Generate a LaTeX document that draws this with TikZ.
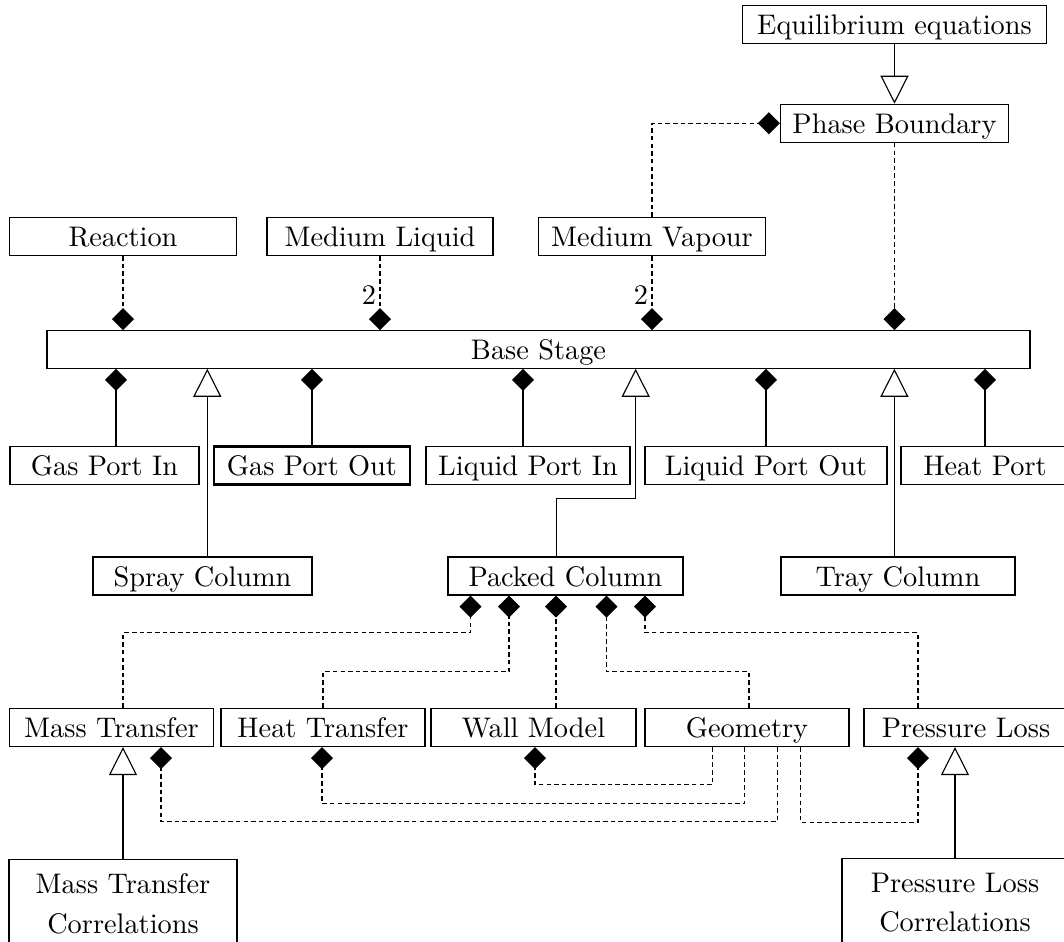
\documentclass[tikz,border=0pt]{standalone}
\usetikzlibrary{arrows.meta,calc}
\tikzset{
  cls/.style={draw, fill=white, minimum width=#1*0.353pt, minimum height=38*0.353pt, inner sep=0pt, font=\normalsize, text height=7.2pt, text depth=0pt},
  mcls/.style={draw, fill=white, minimum width=#1*0.353pt, inner xsep=0pt, inner ysep=5pt, font=\normalsize, align=center, anchor=north},
  dep/.style={dash pattern=on 1.6pt off 1.1pt},
  comp/.style={-{Diamond[length=7.8pt,width=7.8pt]}},
  inh/.style={-{Triangle[open,length=9.9pt,width=9.9pt,fill=white]}},
  mult/.style={inner sep=1.2pt, font=\normalsize},
}
\begin{document}
\begin{tikzpicture}[x=0.353pt, y=-0.353pt]
\useasboundingbox (0,0) rectangle (1064,942);
\clip (0,0) rectangle (1064,942);
% classes
\node[cls=304] (eq) at (894.5,24.5) {Equilibrium equations};
\node[cls=228] (pb) at (894.5,123.3) {Phase Boundary};
\node[cls=227] (re) at (123,236.5) {Reaction};
\node[cls=226] (ml) at (380,236.5) {Medium Liquid};
\node[cls=227] (mv) at (652,236.5) {Medium Vapour};
\node[cls=983, minimum height=37.5*0.353pt] (base) at (538.5,349.5) {Base Stage};
\node[cls=189] (gpi) at (104.5,465.5) {Gas Port In};
\node[cls=196, line width=0.8pt] (gpo) at (312,465.5) {Gas Port Out};
\node[cls=204] (lpi) at (528,465.5) {Liquid Port In};
\node[cls=242] (lpo) at (766,465.5) {Liquid Port Out};
\node[cls=168] (hp) at (985,465.5) {Heat Port};
\node[cls=219] (sc) at (202.5,576) {Spray Column};
\node[cls=235] (pc) at (565.5,576) {Packed Column};
\node[cls=234] (tc) at (898,576) {Tray Column};
\node[cls=204] (mt) at (111.5,727.5) {Mass Transfer};
\node[cls=204] (ht) at (323,727.5) {Heat Transfer};
\node[cls=205] (wm) at (533.5,727.5) {Wall Model};
\node[cls=204] (geo) at (747,727.5) {Geometry};
\node[cls=204] (pl) at (966,727.5) {Pressure Loss};
\node[mcls=228] (mtc) at (123,859) {Mass Transfer\\[2pt]Correlations};
\node[mcls=226] (plc) at (955,858) {Pressure Loss\\[2pt]Correlations};
% top
\draw[inh] (eq.south) -- (eq.south |- pb.north);
\draw[dep,comp] (mv.north) |- (pb.west);
\draw[dep,comp] (pb.south) -- (pb.south |- base.north);
\draw[dep,comp] (re.south) -- (re.south |- base.north);
\draw[dep,comp] (ml.south) -- node[pos=0.53, left, mult] (l1) {2} (ml.south |- base.north);
\draw[dep,comp] (mv.south) -- node[pos=0.53, left, mult] (l2) {2} (mv.south |- base.north);
% ports
\draw[comp] ($(gpi.north)+(11.5,0)$) coordinate (t1) -- (t1 |- base.south);
\draw[comp] (gpo.north) -- (gpo.north |- base.south);
\draw[comp] ($(lpi.north)+(-5,0)$) coordinate (t2) -- (t2 |- base.south);
\draw[comp] (lpo.north) -- (lpo.north |- base.south);
\draw[comp] (hp.north) -- (hp.north |- base.south);
% inheritance of columns
\draw[inh] ($(sc.north)+(4.8,0)$) coordinate (t3) -- (t3 |- base.south);
\draw[inh] ($(pc.north)+(-8.8,0)$) -- ++(0,-57.7) -| ($(base.south)+(97.2,0)$);
\draw[inh] ($(tc.north)+(-3.6,0)$) coordinate (t4) -- (t4 |- base.south);
% packed column parts
\draw[dep,comp] ($(mt.north)+(11.5,0)$) -- ++(0,-75) -| ($(pc.south)+(-95,0)$);
\draw[dep,comp] (ht.north) -- ++(0,-36) -| ($(pc.south)+(-56.5,0)$);
\draw[dep,comp] ($(wm.north)+(22.5,0)$) -- ($(pc.south)+(-9.5,0)$);
\draw[dep,comp] ($(geo.north)+(2,0)$) -- ++(0,-36) -| ($(pc.south)+(41,0)$);
\draw[dep,comp] ($(pl.north)+(-48,0)$) -- ++(0,-75) -| ($(pc.south)+(79.5,0)$);
% geometry usage
\draw[dep,comp] ($(geo.south)+(-34.3,0)$) -- ++(0,37.3) -| ($(wm.south)+(1.5,0)$);
\draw[dep,comp] ($(geo.south)+(-2.7,0)$) -- ++(0,56.7) -| ($(ht.south)+(-1,0)$);
\draw[dep,comp] ($(geo.south)+(30.7,0)$) -- ++(0,74.7) -| ($(mt.south)+(49.5,0)$);
\draw[dep,comp] ($(geo.south)+(53.7,0)$) -- ++(0,75.3) -| ($(pl.south)+(-48,0)$);
% correlations
\draw[inh] (mtc.north) -- (mtc.north |- mt.south);
\draw[inh] (plc.north) -- (plc.north |- pl.south);
\end{tikzpicture}
\end{document}
